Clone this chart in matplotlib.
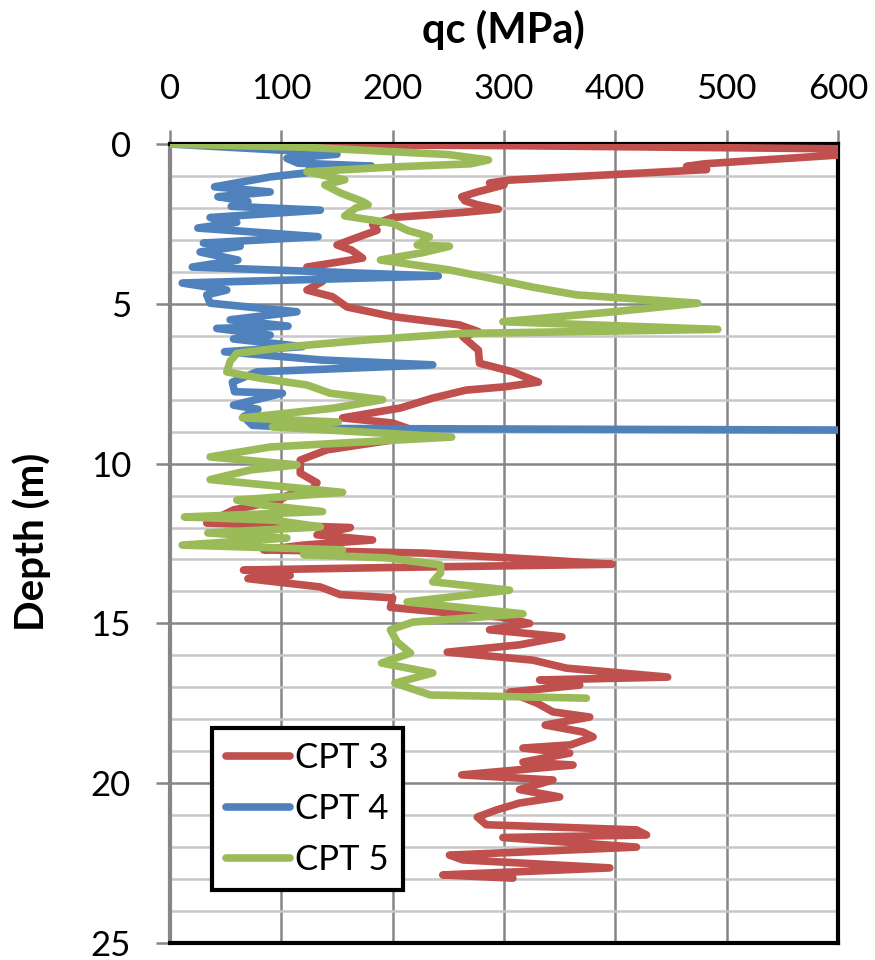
import matplotlib
matplotlib.use("Agg")
import matplotlib.pyplot as plt
from matplotlib.ticker import MultipleLocator

plt.rcParams['font.family'] = ['Lato', 'DejaVu Sans']

# CPT 3 (red)
cpt3_depth = [0.0, 0.05, 0.15, 0.3, 0.62, 0.7, 0.8, 1.13, 1.22, 1.28, 1.5, 1.65, 1.78, 1.9,
              2.04, 2.15, 2.3, 2.53, 2.7, 2.9, 3.16, 3.32, 3.57, 3.7, 3.85, 4.0, 4.3, 4.57,
              4.78, 5.1, 5.4, 5.66, 5.87, 6.03, 6.45, 6.86, 7.13, 7.3, 7.45, 7.6, 7.7, 7.95,
              8.26, 8.57, 8.73, 9.0, 9.26, 9.57, 9.89, 10.3, 10.6, 10.8, 11.0, 11.14, 11.45,
              11.86, 12.0, 12.23, 12.39, 12.55, 12.7, 12.8, 13.0, 13.15, 13.25, 13.33, 13.5,
              13.6, 13.86, 14.1, 14.2, 14.5, 14.7, 14.8, 15.0, 15.2, 15.42, 15.67, 15.9, 16.15,
              16.4, 16.68, 16.77, 16.93, 17.15, 17.5, 17.77, 17.93, 18.18, 18.4, 18.55, 18.8,
              18.9, 19.06, 19.34, 19.43, 19.74, 19.9, 20.2, 20.43, 20.62, 20.84, 21.06, 21.3,
              21.46, 21.62, 21.7, 22.0, 22.25, 22.4, 22.65, 22.87, 22.97]
cpt3_qc = [0, 300, 600, 620, 480, 464, 482, 305, 287, 300, 276, 262, 265, 276,
           295, 260, 200, 182, 186, 170, 150, 163, 173, 150, 123, 134, 137, 123,
           146, 159, 200, 260, 277, 263, 277, 278, 308, 320, 331, 300, 266, 236,
           207, 155, 200, 222, 200, 141, 117, 117, 132, 128, 105, 99, 57,
           33, 162, 132, 182, 120, 84, 228, 330, 397, 200, 66, 108,
           70, 135, 153, 200, 198, 260, 296, 323, 287, 352, 314, 249, 326,
           356, 447, 332, 368, 305, 330, 344, 377, 337, 371, 380, 360,
           317, 359, 317, 362, 262, 344, 314, 350, 314, 293, 276, 284,
           419, 428, 299, 419, 251, 263, 395, 245, 308]

# CPT 4 (blue)
cpt4_depth = [0.0, 0.27, 0.32, 0.45, 0.6, 0.69, 0.8, 0.9, 1.03, 1.34, 1.5, 1.65, 1.8, 1.95,
              2.07, 2.3, 2.45, 2.63, 2.9, 3.1, 3.2, 3.38, 3.63, 3.85, 4.13, 4.35, 4.57, 4.72,
              4.98, 5.25, 5.5, 5.7, 5.77, 5.98, 6.1, 6.34, 6.5, 6.76, 6.91, 7.13, 7.45, 7.75,
              7.8, 8.17, 8.3, 8.53, 8.8, 8.9, 8.95]
cpt4_qc = [0, 140, 150, 105, 115, 181, 125, 123, 90, 40, 90, 43, 70, 55,
           135, 36, 60, 25, 133, 30, 63, 27, 61, 20, 241, 11, 51, 33,
           36, 114, 54, 106, 42, 90, 57, 119, 49, 137, 236, 78, 56, 58,
           101, 57, 79, 66, 74, 126, 600]

# CPT 5 (green)
cpt5_depth = [0.0, 0.1, 0.33, 0.5, 0.62, 0.72, 0.87, 1.12, 1.28, 1.53, 1.8, 1.9, 2.0, 2.25,
              2.48, 2.7, 2.9, 3.16, 3.2, 3.4, 3.63, 3.94, 4.15, 4.48, 4.72, 4.98, 5.25, 5.56,
              5.8, 5.93, 6.13, 6.34, 6.55, 6.8, 7.13, 7.33, 7.54, 7.8, 8.0, 8.27, 8.57, 8.7,
              8.85, 9.17, 9.48, 9.79, 10.04, 10.2, 10.5, 10.9, 11.14, 11.3, 11.5, 11.67, 11.77,
              11.98, 12.17, 12.33, 12.55, 12.7, 12.85, 12.95, 13.17, 13.42, 13.7, 13.96, 14.33,
              14.7, 14.96, 15.2, 15.58, 15.93, 16.24, 16.55, 16.87, 17.24, 17.34]
cpt5_qc = [0, 120, 250, 286, 270, 200, 123, 157, 139, 153, 173, 178, 167, 157,
           200, 213, 233, 222, 251, 227, 189, 251, 281, 326, 365, 474, 398, 299,
           492, 260, 177, 108, 60, 54, 51, 81, 123, 144, 191, 146, 65, 151,
           92, 253, 90, 36, 114, 72, 36, 155, 60, 84, 137, 13, 93,
           135, 34, 105, 11, 155, 120, 195, 243, 243, 236, 305, 213,
           317, 218, 198, 204, 216, 190, 236, 202, 234, 374]

series = [("CPT 3", cpt3_qc, cpt3_depth, "#C0504D"),
          ("CPT 4", cpt4_qc, cpt4_depth, "#4F81BD"),
          ("CPT 5", cpt5_qc, cpt5_depth, "#9BBB59")]

fig = plt.figure(figsize=(8.75, 9.6), dpi=100)
ax = fig.add_axes([170/875, 1-943/960, 668/875, 799/960])

for name, qc, depth, color in series:
    ax.plot(qc, depth, color=color, lw=5.5, label=name,
            solid_capstyle='round', solid_joinstyle='round', zorder=3)

ax.set_xlim(0, 600)
ax.set_ylim(25, 0)
ax.xaxis.set_major_locator(MultipleLocator(100))
ax.yaxis.set_major_locator(MultipleLocator(5))
ax.yaxis.set_minor_locator(MultipleLocator(1))
ax.xaxis.tick_top()

ax.grid(True, which='major', color='#868686', lw=1.8, zorder=1)
ax.grid(True, which='minor', axis='y', color='#C8C8C8', lw=1.8, zorder=1)
ax.tick_params(which='major', direction='out', length=10, width=1.8, color='#868686',
               labelsize=25, pad=18)
ax.tick_params(which='minor', length=0)

for side in ['top', 'right', 'bottom']:
    ax.spines[side].set_color('black')
    ax.spines[side].set_linewidth(3)
ax.spines['left'].set_color('#868686')
ax.spines['left'].set_linewidth(3)

fig.text(503/875, 1-30/960, "qc (MPa)", ha='center', va='center',
         fontsize=30, fontweight='bold')
fig.text(32/875, 1-542/960, "Depth (m)", ha='center', va='center',
         rotation=90, fontsize=29, fontweight='bold')

leg = ax.legend(loc='lower left', bbox_to_anchor=(0.063, 0.066), borderaxespad=0,
                fontsize=25, fancybox=False, framealpha=1, edgecolor='black',
                handlelength=1.85, handletextpad=0.15, labelspacing=0.55,
                borderpad=0.4)
leg.get_frame().set_linewidth(3)

fig.savefig("out.png", dpi=100)
